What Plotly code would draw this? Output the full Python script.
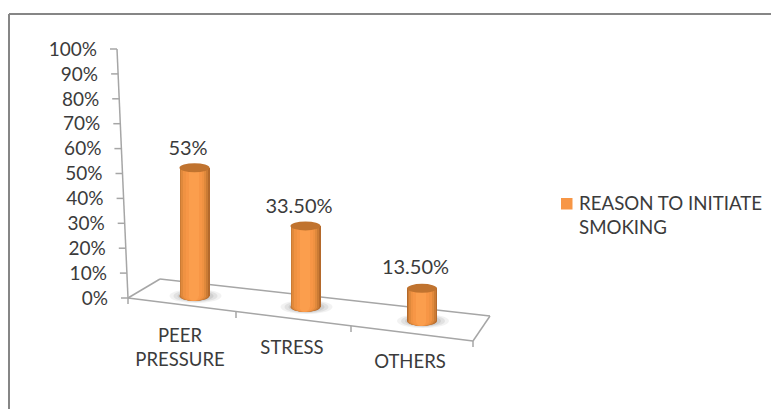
import plotly.graph_objects as go

# ---- data ----
categories = ["PEER<br>PRESSURE", "STRESS", "OTHERS"]
values = [53, 33.5, 13.5]
value_labels = ["53%", "33.50%", "13.50%"]
tick_values = [0, 10, 20, 30, 40, 50, 60, 70, 80, 90, 100]
tick_labels = ["0%", "10%", "20%", "30%", "40%", "50%", "60%", "70%", "80%", "90%", "100%"]
series_name = "REASON TO INITIATE<br>SMOKING"

# ---- layout geometry (pixels of the 771x409 page) ----
W, H = 771, 409
ZERO_PX = 298.0
AXIS_SCALE = 2.49      # px per % on the drawn value axis
BAR_SCALE = 2.42       # px per % for the cylinders
bar_x = [194.5, 305.5, 422.0]
floor_offset = [0.83, -3.72, -9.5]   # floor slopes down to the right (perspective)
BAR_W = 30.0
TOP_RY, BOT_RY = 4.5, 4.8
FONT = "Lato"
TICK_FS, LABEL_FS, CAT_FS, LEG_FS = 19, 20, 18.5, 18.7
TXT = "#3b3b3b"
GRID = "#a6a6a6"
KEY_COLOR = "#F79646"

# cylinder shading: (left fraction, right fraction, colour), outermost first
shade = [
    (0.00, 1.00, "#B4692B"),
    (0.02, 0.95, "#CB7B34"),
    (0.06, 0.89, "#E0893C"),
    (0.12, 0.82, "#F09242"),
    (0.20, 0.74, KEY_COLOR),
    (0.30, 0.64, "#FB9E4D"),
]


def px(x):
    return x / W


def py(y):
    return 1 - y / H


def axis_x(v):
    return 128 - 0.11 * v


def paper_line(x0, y0, x1, y1, width=1.5, color=GRID):
    return dict(type="line", xref="paper", yref="paper", layer="below",
                x0=px(x0), y0=py(y0), x1=px(x1), y1=py(y1),
                line=dict(color=color, width=width))


fig = go.Figure()

# cylinders
for l, r, col in shade:
    fig.add_trace(go.Bar(
        x=[c - BAR_W / 2 + BAR_W * (l + r) / 2 for c in bar_x],
        y=values, base=floor_offset, width=BAR_W * (r - l),
        marker=dict(color=col, line=dict(width=0)),
        yaxis="y2", name=series_name, showlegend=False, hoverinfo="skip",
    ))

# value axis
fig.add_trace(go.Scatter(
    x=[axis_x(tick_values[0]), axis_x(tick_values[-1])],
    y=[tick_values[0], tick_values[-1]], mode="lines",
    line=dict(color=GRID, width=1.5), showlegend=False, hoverinfo="skip"))
for v in tick_values:
    fig.add_trace(go.Scatter(
        x=[axis_x(v) - 7, axis_x(v)], y=[v, v], mode="lines",
        line=dict(color=GRID, width=1.5), showlegend=False, hoverinfo="skip"))
fig.add_trace(go.Scatter(
    x=[axis_x(v) - 20 for v in tick_values],
    y=[v - 2 / AXIS_SCALE for v in tick_values], text=tick_labels,
    mode="text", textposition="middle left",
    textfont=dict(family=FONT, size=TICK_FS, color=TXT),
    showlegend=False, hoverinfo="skip"))

# data labels
fig.add_trace(go.Scatter(
    x=[c - 6.5 for c in bar_x],
    y=[b + v + d / BAR_SCALE for b, v, d in zip(floor_offset, values, (18, 18, 19.5))],
    text=value_labels, mode="text", textposition="middle center", yaxis="y2",
    textfont=dict(family=FONT, size=LABEL_FS, color=TXT),
    showlegend=False, hoverinfo="skip"))

# category labels
fig.add_trace(go.Scatter(
    x=[180, 292, 410],
    y=[(ZERO_PX - p) / AXIS_SCALE for p in (349.5, 349, 363)],
    text=categories, mode="text", textposition="middle center",
    textfont=dict(family=FONT, size=CAT_FS, color=TXT),
    showlegend=False, hoverinfo="skip"))

shapes = [
    # outer frame
    paper_line(9, 14, W, 14, 2, "#868686"),
    paper_line(9, 14, 9, H, 2, "#868686"),
    # floor
    paper_line(128, 298, 160, 279),
    paper_line(160, 279, 490, 316),
    paper_line(490, 316, 473, 341),
    paper_line(473, 341, 128, 298),
    # category ticks
    paper_line(128, 298, 128, 304),
    paper_line(236, 312, 236, 318),
    paper_line(351, 326, 351, 332),
    paper_line(473, 341, 473, 347),
    # legend swatch
    dict(type="rect", xref="paper", yref="paper", layer="above",
         x0=px(561), x1=px(572.5), y0=py(198), y1=py(209.5),
         fillcolor=KEY_COLOR, line=dict(width=0)),
]

# shadows and rounded bottoms
for c, b in zip(bar_x, floor_offset):
    for grow, op in ((11, 0.10), (7, 0.14), (3, 0.18)):
        shapes.append(dict(type="circle", xref="x", yref="y2", layer="below",
                           x0=c - BAR_W / 2 - grow + 1, x1=c + BAR_W / 2 + grow + 1,
                           y0=b - (BOT_RY + grow * 0.2) / BAR_SCALE,
                           y1=b + (BOT_RY + grow * 0.2) / BAR_SCALE,
                           fillcolor="#808080", opacity=op, line=dict(width=0)))
    for l, r, col in shade:
        shapes.append(dict(type="circle", xref="x", yref="y2", layer="below",
                           x0=c - BAR_W / 2 + BAR_W * l, x1=c - BAR_W / 2 + BAR_W * r,
                           y0=b - BOT_RY / BAR_SCALE, y1=b + BOT_RY / BAR_SCALE,
                           fillcolor=col, line=dict(width=0)))

# cylinder tops
for c, b, v in zip(bar_x, floor_offset, values):
    shapes.append(dict(type="circle", xref="x", yref="y2", layer="above",
                       x0=c - BAR_W / 2, x1=c + BAR_W / 2,
                       y0=b + v - TOP_RY / BAR_SCALE, y1=b + v + TOP_RY / BAR_SCALE,
                       fillcolor="#C0732F", line=dict(width=0)))

fig.update_layout(
    width=W, height=H,
    margin=dict(l=0, r=0, t=0, b=0),
    paper_bgcolor="white", plot_bgcolor="white",
    barmode="overlay", bargap=0,
    shapes=shapes,
    xaxis=dict(range=[0, W], visible=False, fixedrange=True),
    yaxis=dict(range=[(ZERO_PX - H) / AXIS_SCALE, ZERO_PX / AXIS_SCALE],
               visible=False, fixedrange=True),
    yaxis2=dict(range=[(ZERO_PX - H) / BAR_SCALE, ZERO_PX / BAR_SCALE],
                overlaying="y", visible=False, fixedrange=True),
    annotations=[dict(text=series_name, xref="paper", yref="paper",
                      x=px(577), y=py(190), xanchor="left", yanchor="top",
                      align="left", showarrow=False,
                      font=dict(family=FONT, size=LEG_FS, color=TXT))],
    showlegend=False,
)

fig.write_html("out.html", config={"displayModeBar": False},
               post_script="document.body.style.margin='0';document.documentElement.style.overflow='hidden';")
